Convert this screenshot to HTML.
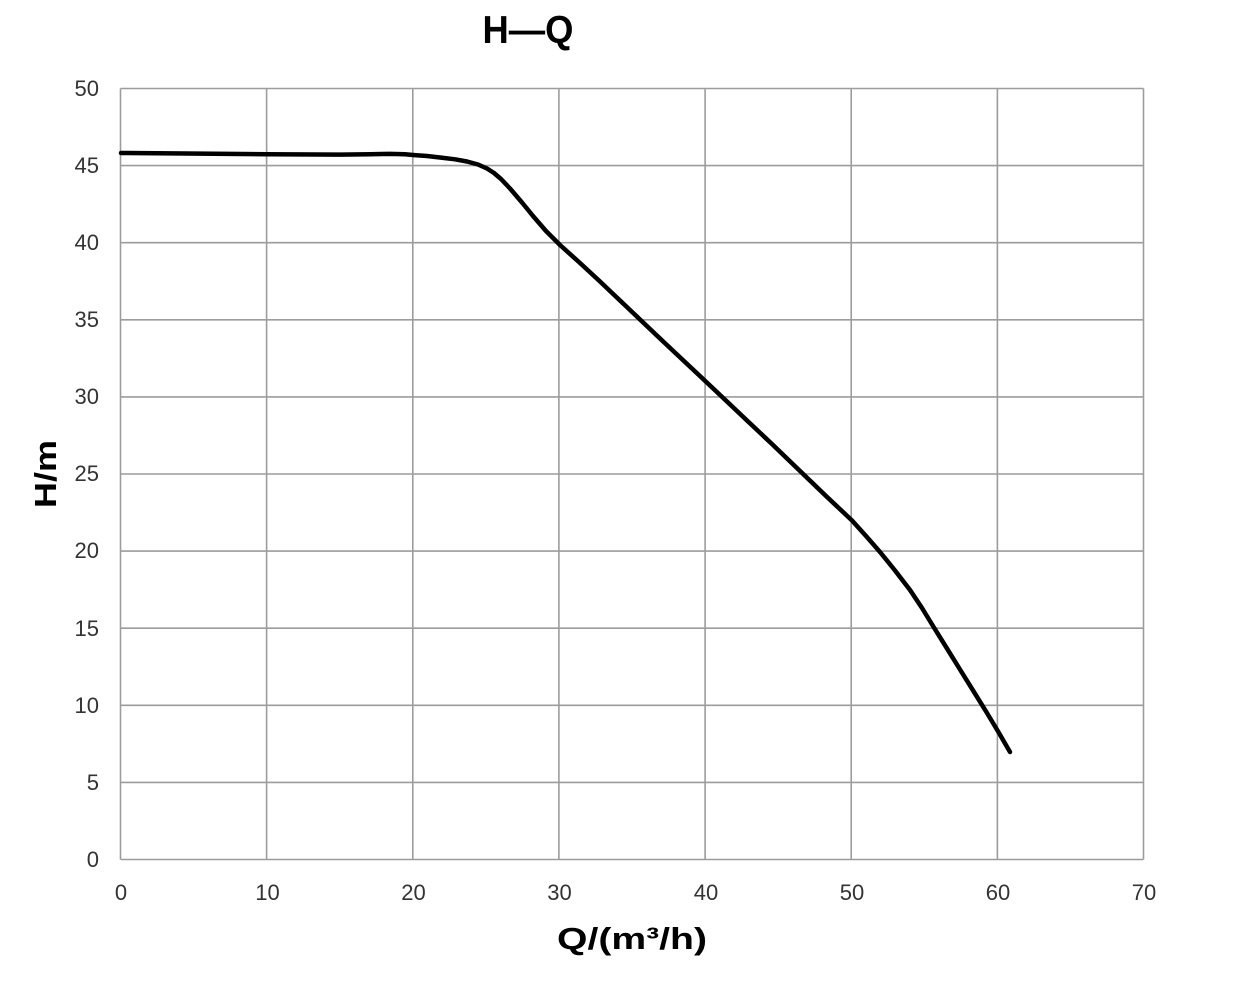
<!DOCTYPE html>
<html>
<head>
<meta charset="utf-8">
<style>
html,body{margin:0;padding:0;background:#fff;}
svg{display:block;}
</style>
</head>
<body>
<svg width="1239" height="989" viewBox="0 0 1239 989" xmlns="http://www.w3.org/2000/svg">
<rect width="1239" height="989" fill="#fff"/>
<!-- title -->
<text x="528" y="43" font-family="Liberation Sans, sans-serif" font-weight="bold" font-size="39" text-anchor="middle" textLength="91" lengthAdjust="spacingAndGlyphs" fill="#000">H—Q</text>
<!-- grid -->
<g stroke="#9c9c9c" stroke-width="1.6" fill="none">
<line x1="120.5" y1="88.5" x2="1143.5" y2="88.5"/>
<line x1="120.5" y1="165.6" x2="1143.5" y2="165.6"/>
<line x1="120.5" y1="242.7" x2="1143.5" y2="242.7"/>
<line x1="120.5" y1="319.8" x2="1143.5" y2="319.8"/>
<line x1="120.5" y1="396.9" x2="1143.5" y2="396.9"/>
<line x1="120.5" y1="474" x2="1143.5" y2="474"/>
<line x1="120.5" y1="551.1" x2="1143.5" y2="551.1"/>
<line x1="120.5" y1="628.2" x2="1143.5" y2="628.2"/>
<line x1="120.5" y1="705.3" x2="1143.5" y2="705.3"/>
<line x1="120.5" y1="782.4" x2="1143.5" y2="782.4"/>
<line x1="120.5" y1="859.5" x2="1143.5" y2="859.5"/>
<line x1="120.5" y1="88.5" x2="120.5" y2="859.5"/>
<line x1="266.6" y1="88.5" x2="266.6" y2="859.5"/>
<line x1="412.8" y1="88.5" x2="412.8" y2="859.5"/>
<line x1="558.9" y1="88.5" x2="558.9" y2="859.5"/>
<line x1="705.1" y1="88.5" x2="705.1" y2="859.5"/>
<line x1="851.2" y1="88.5" x2="851.2" y2="859.5"/>
<line x1="997.4" y1="88.5" x2="997.4" y2="859.5"/>
<line x1="1143.5" y1="88.5" x2="1143.5" y2="859.5"/>
</g>
<!-- y tick labels -->
<g font-family="Liberation Sans, sans-serif" font-size="22" fill="#333" text-anchor="end">
<text x="99" y="96">50</text>
<text x="99" y="173">45</text>
<text x="99" y="250">40</text>
<text x="99" y="327">35</text>
<text x="99" y="404">30</text>
<text x="99" y="481">25</text>
<text x="99" y="558">20</text>
<text x="99" y="636">15</text>
<text x="99" y="713">10</text>
<text x="99" y="790">5</text>
<text x="99" y="867">0</text>
</g>
<!-- x tick labels -->
<g font-family="Liberation Sans, sans-serif" font-size="22" fill="#333" text-anchor="middle">
<text x="121" y="900">0</text>
<text x="267.5" y="900">10</text>
<text x="413.5" y="900">20</text>
<text x="559.5" y="900">30</text>
<text x="706" y="900">40</text>
<text x="852" y="900">50</text>
<text x="998" y="900">60</text>
<text x="1144" y="900">70</text>
</g>
<!-- axis titles -->
<text x="632" y="949" font-family="Liberation Sans, sans-serif" font-weight="bold" font-size="31" text-anchor="middle" textLength="150" lengthAdjust="spacingAndGlyphs" fill="#000">Q/(m³/h)</text>
<text transform="translate(56,474) rotate(-90)" x="0" y="0" font-family="Liberation Sans, sans-serif" font-weight="bold" font-size="31" text-anchor="middle" textLength="68" lengthAdjust="spacingAndGlyphs" fill="#000">H/m</text>
<!-- curve -->
<polyline fill="none" stroke="#000" stroke-width="4.5" stroke-linejoin="round" stroke-linecap="round"
points="121,153 200,153.6 267,154.2 340,154.6 370,154.2 390,153.9 405,154.3 413,155 427,156 440,157.5 455,159.3 467,161.5 478,164.5 487,168.5 494,173 501,179 510,188.5 522,202.5 533,216 546,231 560,245 580,263 600,281.5 620,300.5 640,319.5 660,338.5 677,354.5 693,369.5 710,385.5 728,402.5 747,420.5 773,445 800,471 826,496 852,520.5 866,536 880,552 895,570.5 910,590 922,608 933,626 947,648.5 960,669.5 974,692 987,713 999,733 1010,752"/>
</svg>
</body>
</html>
